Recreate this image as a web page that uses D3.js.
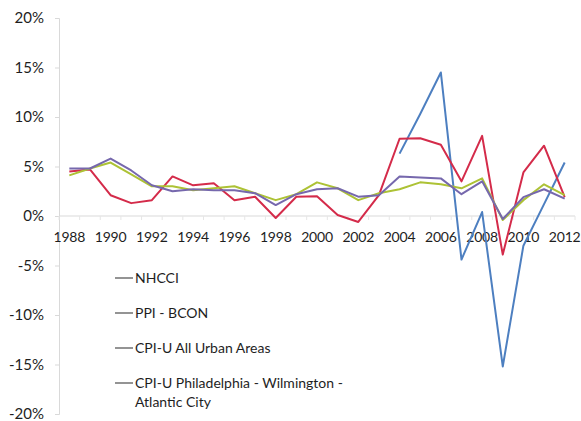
<!DOCTYPE html>
<html>
<head>
<meta charset="utf-8">
<script src="https://cdn.jsdelivr.net/npm/d3@7"></script>
<style>
  html, body { margin: 0; padding: 0; background: #fff; }
  svg { display: block; }
  text { font-family: Lato, "Open Sans", sans-serif; fill: #1e1e1e; }
</style>
</head>
<body>
<svg id="chart" width="581" height="421"></svg>
<script>
// Annual percent change, 1988-2012
const years = d3.range(1988, 2013);
const yearLabels = years.filter(y => y % 2 === 0);
const yTicks = [20, 15, 10, 5, 0, -5, -10, -15, -20];

const nhcci = [null, null, null, null, null, null, null, null, null, null, null, null,
  null, null, null, null, 6.3, 10.3, 14.5, -4.4, 0.4, -15.2, -3.0, 1.2, 5.4];
const ppiBcon = [4.5, 4.7, 2.1, 1.3, 1.6, 4.0, 3.1, 3.3, 1.6, 1.95, -0.2, 1.95,
  2.0, 0.1, -0.6, 2.1, 7.8, 7.85, 7.2, 3.5, 8.1, -3.9, 4.4, 7.1, 1.9];
const cpiAll = [4.1, 4.8, 5.4, 4.2, 3.0, 3.0, 2.6, 2.8, 3.0, 2.3, 1.6, 2.2,
  3.4, 2.8, 1.6, 2.3, 2.7, 3.4, 3.2, 2.8, 3.8, -0.4, 1.6, 3.2, 2.1];
const cpiPhila = [4.8, 4.8, 5.8, 4.6, 3.1, 2.5, 2.7, 2.6, 2.6, 2.3, 1.1, 2.2,
  2.7, 2.8, 1.95, 2.1, 4.0, 3.9, 3.8, 2.2, 3.5, -0.3, 1.9, 2.7, 1.75];

const seriesNames = ["NHCCI", "PPI - BCON", "CPI-U All Urban Areas",
  "CPI-U Philadelphia - Wilmington - Atlantic City"];
const seriesColors = ["#4d7fc0", "#d42b4a", "#adc235", "#7668ad"];
const seriesValues = [nhcci, ppiBcon, cpiAll, cpiPhila];

const svg = d3.select("#chart");
const plot = { left: 59, right: 575, top: 18, bottom: 414 };

const x = d3.scalePoint().domain(years).range([plot.left, plot.right]).padding(0.5);
const band = (plot.right - plot.left) / years.length;
const y = d3.scaleLinear().domain([-20, 20]).range([plot.bottom, plot.top]);

// value axis
const yAxis = svg.append("g")
  .attr("transform", `translate(${plot.left},0)`)
  .call(d3.axisLeft(y).tickValues(yTicks).tickSize(4).tickPadding(11)
    .tickFormat(d => d + "%"));
yAxis.select(".domain").attr("stroke", "#d9d9d9");
yAxis.selectAll(".tick line").attr("stroke", "#d9d9d9");
yAxis.selectAll(".tick text").style("font-size", "15px").attr("fill", "#1e1e1e");

// category axis along zero
const zero = y(0);
svg.append("line")
  .attr("x1", plot.left).attr("x2", plot.right)
  .attr("y1", zero).attr("y2", zero)
  .attr("stroke", "#d9d9d9");
svg.append("g").selectAll("line")
  .data(d3.range(years.length + 1))
  .join("line")
  .attr("x1", i => plot.left + i * band).attr("x2", i => plot.left + i * band)
  .attr("y1", zero).attr("y2", zero + 4)
  .attr("stroke", "#e6e6e6");
svg.append("g").selectAll("text")
  .data(yearLabels)
  .join("text")
  .attr("x", d => x(d))
  .attr("y", zero + 26)
  .attr("text-anchor", "middle")
  .style("font-size", "14px")
  .style("letter-spacing", "-0.2px")
  .text(d => d);

// series lines
const line = d3.line()
  .defined(d => d.v !== null)
  .x(d => x(d.year))
  .y(d => y(d.v));

seriesValues.forEach((vals, i) => {
  svg.append("path")
    .datum(years.map((yr, j) => ({ year: yr, v: vals[j] })))
    .attr("fill", "none")
    .attr("stroke", seriesColors[i])
    .attr("stroke-width", 2)
    .attr("stroke-linejoin", "round")
    .attr("d", line);
});

// legend
const legend = svg.append("g").attr("transform", "translate(115,0)");
const legendRows = [
  { name: [seriesNames[0]], y: 278 },
  { name: [seriesNames[1]], y: 313 },
  { name: [seriesNames[2]], y: 348 },
  { name: ["CPI-U Philadelphia - Wilmington -", "Atlantic City"], y: 383 }
];
legendRows.forEach(row => {
  legend.append("line")
    .attr("x1", 0).attr("x2", 18)
    .attr("y1", row.y).attr("y2", row.y)
    .attr("stroke", "#707070").attr("stroke-width", 1.5);
  const t = legend.append("text")
    .attr("x", 20).attr("y", row.y + 5)
    .style("font-size", "14px");
  row.name.forEach((s, k) => {
    t.append("tspan").attr("x", 20).attr("dy", k === 0 ? 0 : 19).text(s);
  });
});
</script>
</body>
</html>
